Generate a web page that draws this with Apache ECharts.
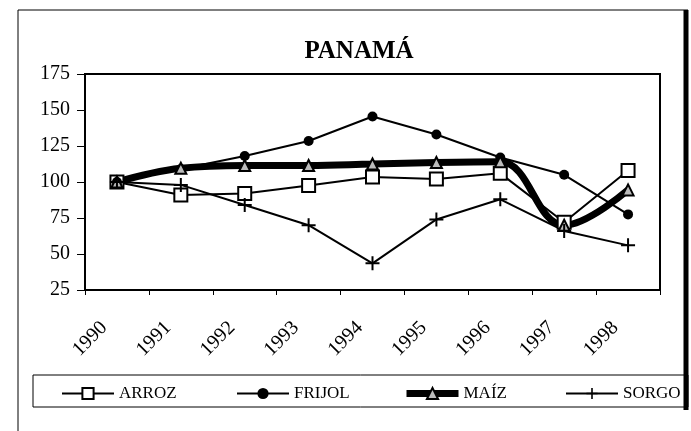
<!DOCTYPE html>
<html lang="es">
<head>
<meta charset="UTF-8">
<title>PANAMÁ</title>
<style type="text/css">
    *{
        margin: 0;
        padding: 0;
    }
    body{
        background-color: #fff;
    }
    .echarts{
        width: 691px;
        height: 431px;
    }
</style>
</head>
<body>
    <div class="echarts"></div>

<script src="https://cdn.jsdelivr.net/npm/echarts@6/dist/echarts.min.js"></script>
<script type="text/javascript">
    // 数据
    var years = ['1990', '1991', '1992', '1993', '1994', '1995', '1996', '1997', '1998']
    var arroz = [100, 91, 92, 97.5, 103.5, 102, 106, 72, 108]
    var frijol = [100, 109, 118, 128.5, 145.5, 133, 117, 105, 77.5]
    var maiz = [100, 109.5, 111.5, 111.5, 112.5, 113.5, 114, 70, 94.5]
    var sorgo = [100, 98, 84, 70, 43.5, 74, 88, 66, 56]
    var yTicks = [25, 175, 25] // min, max, interval

    var serif = '"Liberation Serif", "Times New Roman", serif'
    var plus = 'path://M6,0H8V6H14V8H8V14H6V8H0V6H6Z'

    var chart = echarts.init(document.querySelector('.echarts'))

    function legendItem(name, left, lineWidth) {
        return {
            data: [name],
            left: left,
            top: 385,
            padding: 0,
            itemWidth: 52,
            itemHeight: 14,
            lineStyle: { width: lineWidth },
            textStyle: {
                fontFamily: serif,
                fontSize: 17,
                color: '#000'
            },
            selectedMode: false
        }
    }

    var options = {
        animation: false,
        backgroundColor: '#fff',
        title: {
            text: 'PANAMÁ',
            left: 354,
            top: 34,
            textAlign: 'center',
            textStyle: {
                fontFamily: serif,
                fontWeight: 'bold',
                fontSize: 25,
                color: '#000'
            }
        },
        grid: {
            left: 85,
            right: 31,
            top: 74,
            bottom: 141,
            show: true,
            borderColor: '#000',
            borderWidth: 2,
            backgroundColor: 'transparent'
        },
        legend: [
            legendItem('ARROZ', 61, 2),
            legendItem('FRIJOL', 236, 2),
            legendItem('MAÍZ', 403, 7),
            legendItem('SORGO', 565, 2)
        ],
        xAxis: {
            type: 'category',
            data: years,
            boundaryGap: true,
            axisLine: { lineStyle: { color: '#000', width: 2 } },
            axisTick: { show: true, length: 5, lineStyle: { color: '#000' } },
            axisLabel: {
                rotate: 45,
                margin: 22,
                padding: [0, 18, 0, 0],
                fontFamily: serif,
                fontSize: 20,
                color: '#000'
            },
            splitLine: { show: false }
        },
        yAxis: {
            type: 'value',
            min: yTicks[0],
            max: yTicks[1],
            interval: yTicks[2],
            axisLine: { show: true, lineStyle: { color: '#000', width: 2 } },
            axisTick: { show: true, length: 8, lineStyle: { color: '#000' } },
            axisLabel: {
                margin: 15,
                fontFamily: serif,
                fontSize: 20,
                color: '#000'
            },
            splitLine: { show: false }
        },
        series: [
            {
                name: 'ARROZ',
                type: 'line',
                data: arroz,
                symbol: 'rect',
                symbolSize: 13,
                lineStyle: { color: '#000', width: 2 },
                itemStyle: { color: '#fff', borderColor: '#000', borderWidth: 2 }
            },
            {
                name: 'FRIJOL',
                type: 'line',
                data: frijol,
                symbol: 'circle',
                symbolSize: 10,
                lineStyle: { color: '#000', width: 2 },
                itemStyle: { color: '#000', borderColor: '#000', borderWidth: 0 }
            },
            {
                name: 'MAÍZ',
                type: 'line',
                data: maiz,
                smooth: 0.4,
                symbol: 'triangle',
                symbolSize: 11,
                lineStyle: { color: '#000', width: 7 },
                itemStyle: { color: '#bbb', borderColor: '#000', borderWidth: 2 }
            },
            {
                name: 'SORGO',
                type: 'line',
                data: sorgo,
                symbol: plus,
                symbolSize: 14,
                lineStyle: { color: '#000', width: 2 },
                itemStyle: { color: '#000', borderWidth: 0 }
            }
        ],
        graphic: [
            // 外框
            { type: 'line', shape: { x1: 18, y1: 10, x2: 18, y2: 431 }, style: { stroke: '#000', lineWidth: 1 } },
            { type: 'line', shape: { x1: 18, y1: 10, x2: 688, y2: 10 }, style: { stroke: '#000', lineWidth: 1 } },
            { type: 'line', shape: { x1: 686, y1: 10, x2: 686, y2: 410 }, style: { stroke: '#000', lineWidth: 5 } },
            // 图例框
            { type: 'rect', shape: { x: 33, y: 375, width: 655, height: 32 }, style: { fill: 'none', stroke: '#000', lineWidth: 1 } }
        ]
    }

    chart.setOption(options)
</script>
</body>
</html>
